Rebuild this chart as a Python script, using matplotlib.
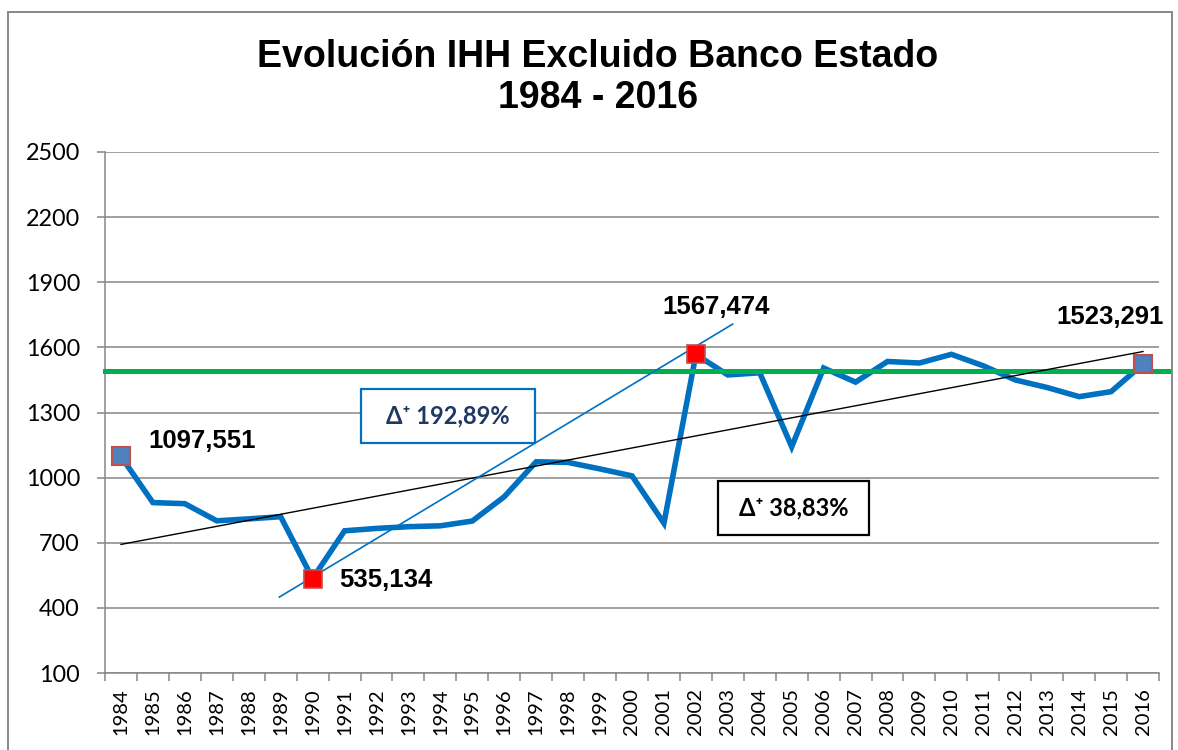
import numpy as np
import matplotlib
matplotlib.use("Agg")
import matplotlib.pyplot as plt
from matplotlib.patches import Rectangle

# ---- data ----
years = list(range(1984, 2017))
ihh = [1097.551, 885, 880, 801, 810, 820, 535.134, 755, 766, 774, 778, 800,
       912, 1073, 1070, 1040, 1008, 790, 1567.474, 1473, 1483, 1142, 1505,
       1440, 1535, 1528, 1568, 1515, 1450, 1415, 1373, 1396, 1523.291]
threshold = 1490
red_years = [1990, 2002]
blue_years = [1984, 2016]
label_years = [1984, 1990, 2002, 2016]
label_texts = ["1097,551", "535,134", "1567,474", "1523,291"]
# hand-drawn growth line (1990 -> 2002), endpoints in year units
growth_line_years = [1988.96, 2003.15]
growth_line_values = [450, 1707]
yticks = [100, 400, 700, 1000, 1300, 1600, 1900, 2200, 2500]

W, H = 1178, 750
fig = plt.figure(figsize=(W / 100, H / 100), dpi=100)
ax = fig.add_axes([105 / W, 1 - 673 / H, (1159 - 105) / W, (673 - 152) / H])

x = np.arange(len(years))
yr_idx = {y: i for i, y in enumerate(years)}

grid_c = "#868686"
ax.set_xlim(-0.5, len(years) - 0.5)
ax.set_ylim(100, 2500)
ax.set_yticks(yticks)
ax.set_yticklabels([str(v) for v in yticks], fontfamily="Lato", fontsize=16.8)
ax.yaxis.grid(True, color=grid_c, linewidth=1.1, zorder=0)
ax.set_axisbelow(True)
ax.tick_params(axis="y", length=6, width=1.1, color=grid_c, pad=12)

ax.set_xticks(x)
ax.set_xticklabels([str(y) for y in years], rotation=90, fontfamily="Lato",
                   fontsize=14.5, va="top")
ax.set_xticks(np.arange(-0.5, len(years), 1), minor=True)
ax.tick_params(axis="x", which="major", length=0, pad=11)
ax.tick_params(axis="x", which="minor", length=6, width=1.1, color=grid_c)

for s in ["top", "right"]:
    ax.spines[s].set_visible(False)
for s in ["left", "bottom"]:
    ax.spines[s].set_color(grid_c)
    ax.spines[s].set_linewidth(1.1)

# main series
ax.plot(x, ihh, color="#0070C0", linewidth=4.0, zorder=3, solid_joinstyle="miter")

# threshold green line
ax.plot([-0.5, len(years) - 0.2], [threshold, threshold], color="#00B050",
        linewidth=3.6, zorder=4, clip_on=False)

# linear trend (all years)
coef = np.polyfit(x, ihh, 1)
ax.plot([x[0], x[-1]], np.polyval(coef, [x[0], x[-1]]), color="black",
        linewidth=1.0, zorder=5)

# growth line 1990-2002
gx = [g - years[0] for g in growth_line_years]
ax.plot(gx, growth_line_values, color="#0070C0", linewidth=1.2, zorder=5)

# markers
for yv in red_years:
    i = yr_idx[yv]
    ax.plot(i, ihh[i], marker="s", markersize=12.5, markerfacecolor="#FF0000",
            markeredgecolor="#C0504D", markeredgewidth=1.2, zorder=6,
            clip_on=False)
for yv in blue_years:
    i = yr_idx[yv]
    ax.plot(i, ihh[i], marker="s", markersize=12.5, markerfacecolor="#4F81BD",
            markeredgecolor="#C0504D", markeredgewidth=1.5, zorder=6,
            clip_on=False)

# data labels
offsets = {1984: (27, 15, "left"), 1990: (27, -1, "left"),
           2002: (20, 47, "center"), 2016: (-33, 47, "center")}
for yv, t in zip(label_years, label_texts):
    i = yr_idx[yv]
    dx, dy, ha = offsets[yv]
    ax.annotate(t, (i, ihh[i]), xytext=(dx, dy), textcoords="offset pixels",
                ha=ha, va="center", fontsize=18.5, fontweight="bold",
                fontfamily="Liberation Sans", zorder=7, annotation_clip=False)

# title
fig.text(598 / W, 1 - 57 / H, "Evolución IHH Excluido Banco Estado",
         ha="center", va="center", fontsize=27, fontweight="bold",
         fontfamily="Liberation Sans")
fig.text(598 / W, 1 - 98 / H, "1984 - 2016", ha="center", va="center",
         fontsize=27, fontweight="bold", fontfamily="Liberation Sans")

# boxes
def box(x0, y0, x1, y1, ec, text, tc):
    fig.add_artist(Rectangle((x0 / W, 1 - y1 / H), (x1 - x0) / W, (y1 - y0) / H,
                             transform=fig.transFigure, facecolor="white",
                             edgecolor=ec, linewidth=1.6, zorder=8))
    fig.text((x0 + x1) / 2 / W, 1 - (y0 + y1) / 2 / H, text, ha="center",
             va="center", fontsize=17, fontweight="bold", color=tc,
             fontfamily=["Lato", "DejaVu Sans"], zorder=9)

box(361, 389, 535, 443, "#0070C0", "Δ⁺ 192,89%", "#1F3864")
box(718, 481, 869, 535, "black", "Δ⁺ 38,83%", "black")

# outer chart frame
fig.add_artist(Rectangle((8 / W, -0.05), (1172 - 8) / W, 1.05 - 12 / H,
                         transform=fig.transFigure, fill=False,
                         edgecolor="#888888", linewidth=1.4, zorder=10))

fig.savefig("out.png", dpi=100)
